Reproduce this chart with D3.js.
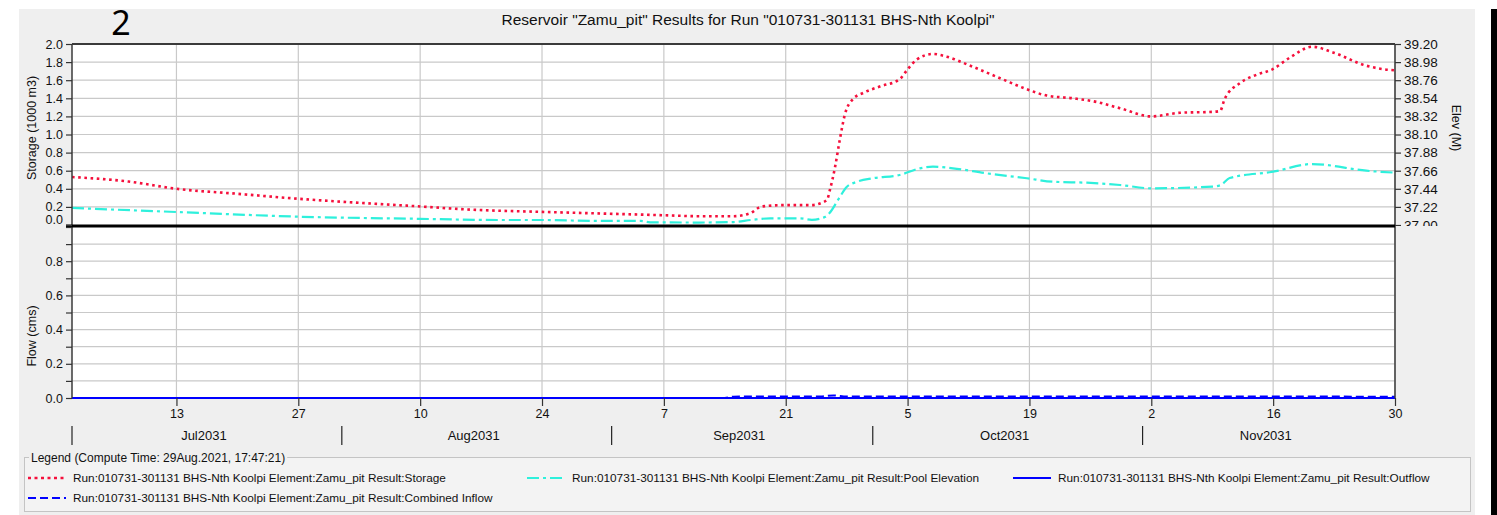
<!DOCTYPE html>
<html>
<head>
<meta charset="utf-8">
<script src="https://cdn.jsdelivr.net/npm/d3@7"></script>
<style>
  html, body { margin: 0; padding: 0; background: #ffffff; }
  svg { display: block; }
  text { font-family: "Liberation Sans", Arial, sans-serif; fill: #111; }
</style>
</head>
<body>
<svg id="chart" width="1497" height="515"></svg>
<script>
// ---- Reservoir results, 01Jul2031 - 30Nov2031 ----
const storageTimes = [
  "2031-07-01 00:00", "2031-07-07 12:00", "2031-07-13 00:00", "2031-07-20 00:00",
  "2031-07-27 00:00", "2031-08-03 00:00", "2031-08-10 00:00", "2031-08-15 18:00",
  "2031-08-24 00:00", "2031-08-30 18:00", "2031-09-07 00:00", "2031-09-11 00:00",
  "2031-09-15 00:00", "2031-09-16 22:00", "2031-09-18 06:00", "2031-09-21 00:00",
  "2031-09-24 00:00", "2031-09-25 00:00", "2031-09-25 18:00", "2031-09-26 02:00",
  "2031-09-26 16:00", "2031-09-27 05:00", "2031-09-27 19:00", "2031-09-28 17:00",
  "2031-09-29 22:00", "2031-10-01 19:00", "2031-10-04 02:00", "2031-10-05 00:00",
  "2031-10-06 02:00", "2031-10-07 22:00", "2031-10-09 12:00", "2031-10-12 05:00",
  "2031-10-15 22:00", "2031-10-18 17:00", "2031-10-21 00:00", "2031-10-24 00:00",
  "2031-10-26 17:00", "2031-10-29 10:00", "2031-11-02 00:00", "2031-11-05 07:00",
  "2031-11-09 00:00", "2031-11-09 22:00", "2031-11-10 10:00", "2031-11-12 05:00",
  "2031-11-14 02:00", "2031-11-15 22:00", "2031-11-17 22:00", "2031-11-20 12:00",
  "2031-11-22 19:00", "2031-11-26 17:00", "2031-11-28 19:00", "2031-11-30 00:00"
];
const storageValues = [
  0.53, 0.48, 0.40, 0.345,
  0.29, 0.245, 0.205, 0.17,
  0.145, 0.127, 0.108, 0.097,
  0.097, 0.13, 0.205, 0.22,
  0.22, 0.24, 0.28, 0.39,
  0.64, 0.94, 1.22, 1.39,
  1.46, 1.53, 1.61, 1.72,
  1.83, 1.89, 1.86, 1.76,
  1.61, 1.50, 1.43, 1.40,
  1.36, 1.29, 1.20, 1.24,
  1.25, 1.26, 1.39, 1.57,
  1.66, 1.72, 1.85, 1.97,
  1.91, 1.76, 1.72, 1.71
];

const elevTimes = [
  "2031-07-01 00:00", "2031-07-13 00:00", "2031-07-27 00:00", "2031-08-10 00:00",
  "2031-08-19 00:00", "2031-08-24 00:00", "2031-08-30 18:00", "2031-09-04 08:00",
  "2031-09-05 10:00", "2031-09-11 00:00", "2031-09-15 00:00", "2031-09-17 00:00",
  "2031-09-19 05:00", "2031-09-22 14:00", "2031-09-24 00:00", "2031-09-25 12:00",
  "2031-09-26 00:00", "2031-09-27 05:00", "2031-09-28 00:00", "2031-09-29 05:00",
  "2031-10-01 00:00", "2031-10-04 02:00", "2031-10-06 10:00", "2031-10-07 22:00",
  "2031-10-10 05:00", "2031-10-14 02:00", "2031-10-18 17:00", "2031-10-21 17:00",
  "2031-10-25 14:00", "2031-10-29 10:00", "2031-11-02 00:00", "2031-11-09 00:00",
  "2031-11-10 00:00", "2031-11-11 00:00", "2031-11-16 00:00", "2031-11-20 12:00",
  "2031-11-26 17:00", "2031-11-30 00:00"
];
const elevValues = [
  37.207, 37.158, 37.101, 37.075,
  37.061, 37.061, 37.049, 37.049,
  37.033, 37.030, 37.036, 37.061,
  37.081, 37.081, 37.063, 37.097,
  37.142, 37.340, 37.462, 37.526,
  37.568, 37.608, 37.689, 37.709,
  37.689, 37.628, 37.568, 37.526,
  37.514, 37.486, 37.446, 37.466,
  37.486, 37.571, 37.648, 37.741,
  37.660, 37.636
];

const outflowTimes = ["2031-07-01 00:00", "2031-11-30 00:00"];
const outflowValues = [0, 0];

const inflowTimes = [
  "2031-07-01 00:00", "2031-09-14 00:00", "2031-09-15 00:00", "2031-09-25 00:00",
  "2031-09-26 12:00", "2031-09-28 00:00", "2031-11-30 00:00"
];
const inflowValues = [0, 0, 0.008, 0.009, 0.015, 0.009, 0.008];

// axis ticks and labels
const storageTicks = [0.0, 0.2, 0.4, 0.6, 0.8, 1.0, 1.2, 1.4, 1.6, 1.8, 2.0];
const elevTicks = [37.00, 37.22, 37.44, 37.66, 37.88, 38.10, 38.32, 38.54, 38.76, 38.98, 39.20];
const flowTicks = [0.0, 0.1, 0.2, 0.3, 0.4, 0.5, 0.6, 0.7, 0.8, 0.9, 1.0];
const flowLabelTicks = [0.0, 0.2, 0.4, 0.6, 0.8];
const dayTicks = [
  "2031-07-13 00:00", "2031-07-27 00:00", "2031-08-10 00:00", "2031-08-24 00:00",
  "2031-09-07 00:00", "2031-09-21 00:00", "2031-10-05 00:00", "2031-10-19 00:00",
  "2031-11-02 00:00", "2031-11-16 00:00", "2031-11-30 00:00"
];
const monthStarts = ["2031-07-01 00:00", "2031-08-01 00:00", "2031-09-01 00:00", "2031-10-01 00:00", "2031-11-01 00:00"];
const monthEnds   = ["2031-08-01 00:00", "2031-09-01 00:00", "2031-10-01 00:00", "2031-11-01 00:00", "2031-11-30 00:00"];
const monthLabels = ["Jul2031", "Aug2031", "Sep2031", "Oct2031", "Nov2031"];

const titleText = 'Reservoir "Zamu_pit" Results for Run "010731-301131 BHS-Nth Koolpi"';
const legendTitle = "Legend (Compute Time: 29Aug.2021, 17:47:21)";
const legendItems = [
  { name: "Run:010731-301131 BHS-Nth Koolpi Element:Zamu_pit Result:Storage", key: "storage" },
  { name: "Run:010731-301131 BHS-Nth Koolpi Element:Zamu_pit Result:Pool Elevation", key: "elev" },
  { name: "Run:010731-301131 BHS-Nth Koolpi Element:Zamu_pit Result:Outflow", key: "outflow" },
  { name: "Run:010731-301131 BHS-Nth Koolpi Element:Zamu_pit Result:Combined Inflow", key: "inflow" }
];

// ---- styles per series ----
const seriesStyle = {
  storage: { color: "#f5103c", width: 2.6, dash: "2.6,3.6" },
  elev:    { color: "#2ef0dc", width: 2.2, dash: "12,4,3,4" },
  outflow: { color: "#0000ff", width: 2, dash: null },
  inflow:  { color: "#0000ff", width: 2, dash: "8,4" }
};

const parse = d3.utcParse("%Y-%m-%d %H:%M");
const svg = d3.select("#chart");

const L = 72, R = 1395, TOP = 44, MID = 226, BOT = 398;

const x = d3.scaleUtc()
  .domain([parse("2031-07-01 00:00"), parse("2031-11-30 00:00")])
  .range([L, R]);
const yStore = d3.scaleLinear().domain([0, 2]).range([225, TOP]);
const yElev = d3.scaleLinear().domain([37, 39.2]).range([225, TOP]);
const yFlow = d3.scaleLinear().domain([0, 1]).range([BOT, 227]);

// frame
svg.append("rect").attr("width", 1497).attr("height", 515).attr("fill", "#ffffff");
svg.append("rect").attr("x", 19).attr("y", 9).attr("width", 1456).attr("height", 506).attr("fill", "#efefef");
svg.append("rect").attr("x", 1491).attr("y", 9).attr("width", 6).attr("height", 506).attr("fill", "#000000");

// big figure number
svg.append("text").attr("x", 121).attr("y", 35).attr("text-anchor", "middle")
  .style("font-family", "'Noto Sans', 'Open Sans', sans-serif")
  .style("font-size", "34px").style("fill", "#000").text("2");

// title
svg.append("text").attr("x", 748).attr("y", 25).attr("text-anchor", "middle")
  .style("font-size", "15.5px").text(titleText);

// plot background
svg.append("rect").attr("x", L).attr("y", TOP).attr("width", R - L).attr("height", BOT - TOP).attr("fill", "#ffffff");

const grid = svg.append("g").attr("stroke", "#c9c9c9").attr("stroke-width", 1.2);
// vertical grid at day ticks
grid.selectAll("line.v").data(dayTicks.map(parse)).join("line")
  .attr("x1", d => x(d)).attr("x2", d => x(d)).attr("y1", TOP).attr("y2", BOT);
// horizontal grid top panel
grid.selectAll("line.ht").data(storageTicks.slice(1, -1)).join("line").attr("class", "ht")
  .attr("x1", L).attr("x2", R).attr("y1", d => yStore(d)).attr("y2", d => yStore(d));
// horizontal grid bottom panel
grid.selectAll("line.hb").data(flowTicks.slice(1, -1)).join("line").attr("class", "hb")
  .attr("x1", L).attr("x2", R).attr("y1", d => yFlow(d)).attr("y2", d => yFlow(d));

// clip paths for panels
const defs = svg.append("defs");
defs.append("clipPath").attr("id", "clipTop").append("rect")
  .attr("x", L).attr("y", TOP).attr("width", R - L).attr("height", MID - TOP);
defs.append("clipPath").attr("id", "clipBot").append("rect")
  .attr("x", L).attr("y", MID).attr("width", R - L).attr("height", BOT - MID + 2);
defs.append("clipPath").attr("id", "clipRightLabels").append("rect")
  .attr("x", R).attr("y", 30).attr("width", 80).attr("height", MID - 30);

function series(times, values) {
  return times.map((t, i) => ({ t: parse(t), v: values[i] }));
}

function drawLine(g, data, yScale, style) {
  const line = d3.line().x(d => x(d.t)).y(d => yScale(d.v)).curve(d3.curveMonotoneX);
  g.append("path").datum(data).attr("d", line)
    .attr("fill", "none").attr("stroke", style.color).attr("stroke-width", style.width)
    .attr("stroke-dasharray", style.dash);
}

const gTop = svg.append("g").attr("clip-path", "url(#clipTop)");
drawLine(gTop, series(elevTimes, elevValues), yElev, seriesStyle.elev);
drawLine(gTop, series(storageTimes, storageValues), yStore, seriesStyle.storage);

const gBot = svg.append("g").attr("clip-path", "url(#clipBot)");
drawLine(gBot, series(outflowTimes, outflowValues), yFlow, seriesStyle.outflow);
drawLine(gBot, series(inflowTimes, inflowValues), yFlow, seriesStyle.inflow);

// panel borders
const border = svg.append("g").attr("fill", "none");
border.append("line").attr("x1", L).attr("x2", R).attr("y1", TOP).attr("y2", TOP).attr("stroke", "#3a3a3a").attr("stroke-width", 2);
border.append("line").attr("x1", L).attr("x2", L).attr("y1", TOP).attr("y2", BOT).attr("stroke", "#3a3a3a").attr("stroke-width", 1.5);
border.append("line").attr("x1", R).attr("x2", R).attr("y1", TOP).attr("y2", BOT).attr("stroke", "#3a3a3a").attr("stroke-width", 1.5);
border.append("line").attr("x1", L - 6).attr("x2", R).attr("y1", MID).attr("y2", MID).attr("stroke", "#000").attr("stroke-width", 3);

// axes
function styleAxis(g, size) {
  g.select(".domain").remove();
  g.selectAll(".tick line").attr("stroke", "#333").attr("stroke-width", 1.2);
  g.selectAll(".tick text").style("font-size", size || "12.5px").style("fill", "#111")
    .style("font-family", "'Liberation Sans', Arial, sans-serif");
}

const axStore = svg.append("g").attr("transform", `translate(${L},0)`)
  .call(d3.axisLeft(yStore).tickValues(storageTicks).tickFormat(d3.format(".1f")).tickSize(6).tickPadding(3));
styleAxis(axStore);
// keep the lowest label inside the upper panel
axStore.selectAll(".tick text").filter(d => d === 0).attr("dy", "-0.1em");

// right-hand elevation axis; labels below the panel edge are cut off
const elevWrap = svg.append("g").attr("clip-path", "url(#clipRightLabels)");
const axElev = elevWrap.append("g").attr("transform", `translate(${R},0)`)
  .call(d3.axisRight(yElev).tickValues(elevTicks).tickFormat(d3.format(".2f")).tickSize(6).tickPadding(3));
styleAxis(axElev, "13.5px");

const axFlow = svg.append("g").attr("transform", `translate(${L},0)`)
  .call(d3.axisLeft(yFlow).tickValues(flowTicks)
    .tickFormat(d => flowLabelTicks.some(v => Math.abs(v - d) < 1e-9) ? d3.format(".1f")(d) : "")
    .tickSize(6).tickPadding(3));
styleAxis(axFlow);

const axX = svg.append("g").attr("transform", `translate(0,${BOT})`)
  .call(d3.axisBottom(x).tickValues(dayTicks.map(parse)).tickFormat(d3.utcFormat("%-d")).tickSize(8).tickPadding(3));
styleAxis(axX);

// month separators and labels
const months = svg.append("g");
months.selectAll("line").data(monthStarts.map(parse)).join("line")
  .attr("x1", d => x(d)).attr("x2", d => x(d)).attr("y1", 426).attr("y2", 445)
  .attr("stroke", "#222").attr("stroke-width", 1.2);
months.selectAll("text").data(monthLabels).join("text")
  .attr("x", (d, i) => (x(parse(monthStarts[i])) + x(parse(monthEnds[i]))) / 2 - 3)
  .attr("y", 440).attr("text-anchor", "middle").style("font-size", "13px").text(d => d);

// axis titles
svg.append("text").attr("transform", "translate(36,128) rotate(-90)").attr("text-anchor", "middle")
  .style("font-size", "12.5px").text("Storage (1000 m3)");
svg.append("text").attr("transform", "translate(36,336) rotate(-90)").attr("text-anchor", "middle")
  .style("font-size", "12.5px").text("Flow (cms)");
svg.append("text").attr("transform", "translate(1452,128) rotate(90)").attr("text-anchor", "middle")
  .style("font-size", "12.5px").text("Elev (M)");

// legend group box
const lg = svg.append("g");
lg.append("rect").attr("x", 24.5).attr("y", 457.5).attr("width", 1446).attr("height", 54)
  .attr("fill", "#f3f3f3").attr("stroke", "#c4c4c4").attr("stroke-width", 1);
const lt = lg.append("text").attr("x", 31).attr("y", 461.5).style("font-size", "12px").text(legendTitle);
const bb = lt.node().getBBox();
lg.insert("rect", "text").attr("x", bb.x - 2).attr("y", 455).attr("width", bb.width + 4).attr("height", 5).attr("fill", "#efefef");

const legendPos = [
  { x: 28, y: 478 }, { x: 527, y: 478 }, { x: 1013, y: 478 }, { x: 28, y: 498 }
];
legendItems.forEach((item, i) => {
  const p = legendPos[i];
  const st = seriesStyle[item.key];
  lg.append("line").attr("x1", p.x).attr("x2", p.x + 38).attr("y1", p.y).attr("y2", p.y)
    .attr("stroke", st.color).attr("stroke-width", st.width)
    .attr("stroke-dasharray", item.key === "elev" ? "12,4,3,4" : item.key === "storage" ? "3,3.5" : st.dash);
  lg.append("text").attr("x", p.x + 45).attr("y", p.y + 4).style("font-size", "11.8px").text(item.name);
});
</script>
</body>
</html>
